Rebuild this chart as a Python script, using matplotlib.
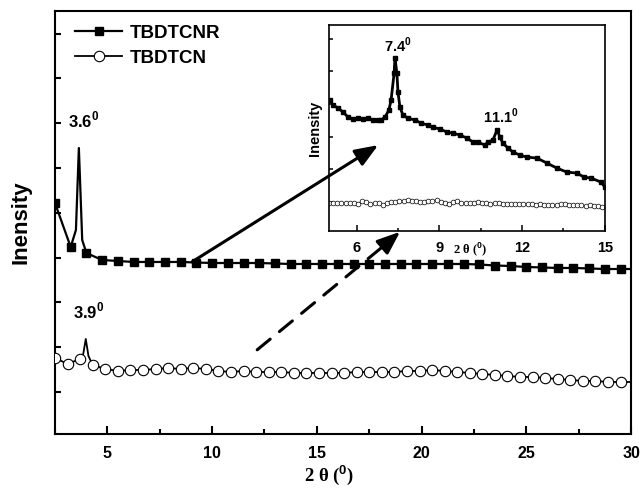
import matplotlib
matplotlib.use('Agg')
import matplotlib.pyplot as plt
from matplotlib.ticker import MultipleLocator, FixedLocator, NullFormatter

plt.rcParams['font.family'] = ['Liberation Sans', 'DejaVu Sans']
plt.rcParams['font.weight'] = 'bold'
plt.rcParams['mathtext.fontset'] = 'custom'
plt.rcParams['mathtext.rm'] = 'Liberation Sans'
plt.rcParams['mathtext.bf'] = 'Liberation Sans:bold'

# main pattern, TBDTCNR (squares); 3.5/3.64/3.8 and 30.0 are line-only points
nr_x = [2.5, 3.25, 3.5, 3.64, 3.8, 4.0, 4.75, 5.5, 6.25, 7.0, 7.75, 8.5, 9.25,
        10.0, 10.75, 11.5, 12.25, 13.0, 13.75, 14.5, 15.25, 16.0, 16.75, 17.5,
        18.25, 19.0, 19.75, 20.5, 21.25, 22.0, 22.75, 23.5, 24.25, 25.0, 25.75,
        26.5, 27.25, 28.0, 28.75, 29.5, 30.0]
nr_y = [5218, 4236, 4616, 6446, 4393, 4102, 3946, 3924, 3902, 3902, 3902, 3902, 3890,
        3879, 3879, 3879, 3879, 3868, 3857, 3857, 3857, 3857, 3857, 3857,
        3857, 3857, 3857, 3857, 3857, 3857, 3846, 3823, 3812, 3790, 3779,
        3768, 3768, 3757, 3745, 3745, 3745]
nr_line_only = [3.5, 3.64, 3.8, 30.0]

# main pattern, TBDTCN (open circles); 3.85/3.97/4.1 and 30.0 are line-only points
cn_x = [2.5, 3.1, 3.7, 3.85, 3.97, 4.1, 4.3, 4.9, 5.5, 6.1, 6.7, 7.3, 7.9, 8.5, 9.1,
        9.7, 10.3, 10.9, 11.5, 12.1, 12.7, 13.3, 13.9, 14.5, 15.1, 15.7, 16.3,
        16.9, 17.5, 18.1, 18.7, 19.3, 19.9, 20.5, 21.1, 21.7, 22.3, 22.9, 23.5,
        24.1, 24.7, 25.3, 25.9, 26.5, 27.1, 27.7, 28.3, 28.9, 29.5, 30.0]
cn_y = [1759, 1625, 1737, 1850, 2183, 1800, 1603, 1513, 1469, 1491, 1491, 1513, 1536, 1513, 1536,
        1513, 1469, 1446, 1469, 1446, 1446, 1446, 1424, 1424, 1424, 1424, 1424,
        1446, 1446, 1446, 1446, 1469, 1469, 1491, 1469, 1446, 1424, 1402, 1379,
        1357, 1335, 1335, 1312, 1290, 1268, 1246, 1246, 1223, 1223, 1223]
cn_line_only = [3.85, 3.97, 4.1, 30.0]

# inset, 5-15 degrees
in_nr_x = [5.03, 5.14, 5.33, 5.51, 5.69, 5.87, 6.05, 6.23, 6.41, 6.59, 6.78, 6.88,
           7.03, 7.17, 7.25, 7.36, 7.39, 7.46, 7.50, 7.57, 7.68, 7.86, 8.12, 8.33,
           8.59, 8.77, 9.02, 9.28, 9.49, 9.75, 10.0, 10.22, 10.40, 10.65, 10.76,
           10.94, 11.09, 11.20, 11.30, 11.49, 11.67, 11.92, 12.17, 12.54, 12.90,
           13.26, 13.62, 13.99, 14.24, 14.50, 14.86, 15.0]
in_nr_y = [1310, 1260, 1230, 1190, 1140, 1120, 1130, 1120, 1130, 1110, 1110, 1110,
           1140, 1210, 1310, 1580, 1730, 1580, 1390, 1240, 1160, 1130, 1110, 1080,
           1060, 1040, 1020, 990, 980, 960, 930, 890, 890, 860, 890,
           910, 1010, 940, 880, 830, 790, 760, 740, 730, 680,
           630, 590, 580, 540, 530, 490, 440]
in_cn_x = [5.0, 5.15, 5.3, 5.45, 5.6, 5.75, 5.9, 6.05, 6.2, 6.35, 6.5, 6.65, 6.8, 6.95,
           7.1, 7.25, 7.4, 7.55, 7.7, 7.85, 8.0, 8.15, 8.3, 8.45, 8.6, 8.75, 8.9, 9.05,
           9.2, 9.35, 9.5, 9.65, 9.8, 9.95, 10.1, 10.25, 10.4, 10.55, 10.7, 10.85,
           11.0, 11.15, 11.3, 11.45, 11.6, 11.75, 11.9, 12.05, 12.2, 12.35, 12.5,
           12.65, 12.8, 12.95, 13.1, 13.25, 13.4, 13.55, 13.7, 13.85, 14.0, 14.15,
           14.3, 14.45, 14.6, 14.75, 14.9]
in_cn_y = [280, 285, 280, 282, 278, 280, 285, 275, 300, 290, 270, 285, 280, 262,
           285, 290, 295, 300, 305, 310, 305, 300, 295, 290, 300, 305, 308, 295,
           285, 270, 290, 300, 285, 280, 278, 285, 290, 285, 283, 275,
           280, 278, 275, 270, 272, 270, 272, 268, 270, 268, 265,
           268, 262, 265, 258, 262, 268, 270, 265, 262, 260, 258,
           255, 258, 252, 250, 240]

main_yticks = [1000, 2000, 3000, 4000, 5000, 6000, 7000, 8000, 9000]
inset_yticks = [290, 617, 944, 1271, 1598, 1925]

fig = plt.figure(figsize=(6.43, 4.97), dpi=100)
ax = fig.add_axes([0.0855, 0.1268, 0.896, 0.851])
ins = fig.add_axes([0.5117, 0.535, 0.429, 0.4145])
# main axes drawn over the inset so the arrow head shows
ax.set_zorder(2)
ax.patch.set_visible(False)
ins.set_zorder(1)

nr_mark = [x not in nr_line_only for x in nr_x]
cn_mark = [x not in cn_line_only for x in cn_x]
ax.plot(nr_x, nr_y, color='black', lw=1.6, marker='s', ms=5.8,
        markevery=nr_mark, label='TBDTCNR', zorder=3)
ax.plot(cn_x, cn_y, color='black', lw=1.3, marker='o', ms=7.5, mfc='white',
        mec='black', mew=0.8, markevery=cn_mark, label='TBDTCN', zorder=3)

ax.set_xlim(2.5, 30)
ax.set_ylim(62, 9504)
ax.xaxis.set_major_locator(MultipleLocator(5))
ax.xaxis.set_minor_locator(MultipleLocator(2.5))
ax.yaxis.set_major_locator(FixedLocator(main_yticks))
ax.yaxis.set_major_formatter(NullFormatter())
ax.tick_params(axis='both', which='both', direction='in', width=1.5)
ax.tick_params(axis='x', which='major', length=6, labelsize=11.5, pad=9)
ax.tick_params(axis='x', which='minor', length=3.5)
ax.tick_params(axis='y', which='major', length=4.5)
for s in ax.spines.values():
    s.set_linewidth(1.5)

ax.set_ylabel('Inensity', fontsize=16, fontweight='bold')
ax.yaxis.set_label_coords(-0.04, 0.5)
ax.set_xlabel(r'2 θ ($^{0}$)', fontsize=13.5, fontweight='bold',
              fontfamily=['Liberation Serif', 'DejaVu Serif'])
ax.xaxis.set_label_coords(0.475, -0.068)

ax.text(3.12, 7071, r'3.6$^{0}$', fontsize=12, fontweight='bold', va='center')
ax.text(3.36, 2808, r'3.9$^{0}$', fontsize=12, fontweight='bold', va='center')

ax.legend(loc='upper left', bbox_to_anchor=(0.035, 0.968), frameon=False,
          fontsize=13.5, handlelength=2.5, handletextpad=0.4, labelspacing=0.42,
          borderpad=0, borderaxespad=0)

# solid arrow to the inset
ax.annotate('', xy=(0.561, 0.683), xytext=(0.238, 0.407), xycoords='axes fraction',
            arrowprops=dict(arrowstyle='-|>,head_length=1.4,head_width=0.55',
                            lw=2.2, color='black', mutation_scale=10, shrinkA=0, shrinkB=0))
# dashed arrow
ax.annotate('', xy=(0.585, 0.461), xytext=(0.351, 0.199), xycoords='axes fraction',
            arrowprops=dict(arrowstyle='-', lw=2.2, color='black', linestyle=(0, (5.5, 3.9)),
                            shrinkA=0, shrinkB=0))
ax.annotate('', xy=(0.599, 0.478), xytext=(0.57, 0.444), xycoords='axes fraction',
            arrowprops=dict(arrowstyle='-|>,head_length=1.4,head_width=0.55',
                            lw=2.2, color='black', mutation_scale=10, shrinkA=0, shrinkB=0))

# inset x label sits under the main curve
ax.text(0.72, 0.437, r'2 θ ($^{0}$)', transform=ax.transAxes, fontsize=9,
        fontweight='bold', family=['Liberation Serif', 'DejaVu Serif'],
        ha='center', va='center', zorder=1)

ins.plot(in_nr_x, in_nr_y, color='black', lw=2.0, marker='s', ms=2.6)
ins.plot(in_cn_x, in_cn_y, color='black', lw=0.4, marker='o', ms=3.4, mfc='white',
         mec='black', mew=0.5)
ins.text(6.99, 1860, r'7.4$^{0}$', fontsize=10.5, fontweight='bold', va='center')
ins.text(10.58, 1150, r'11.1$^{0}$', fontsize=10.5, fontweight='bold', va='center')
ins.set_xlim(5, 15)
ins.set_ylim(0, 2060)
ins.xaxis.set_major_locator(FixedLocator([6, 9, 12, 15]))
ins.xaxis.set_minor_locator(FixedLocator([7.5, 10.5, 13.5]))
ins.yaxis.set_major_locator(FixedLocator(inset_yticks))
ins.yaxis.set_major_formatter(NullFormatter())
ins.tick_params(axis='both', which='both', direction='in', width=1.1)
ins.tick_params(axis='x', which='major', length=4, labelsize=10.5, pad=7)
ins.tick_params(axis='x', which='minor', length=2.5)
ins.tick_params(axis='y', which='major', length=3)
for s in ins.spines.values():
    s.set_linewidth(1.2)
ins.set_ylabel('Inensity', fontsize=10.5, fontweight='bold')
ins.yaxis.set_label_coords(-0.025, 0.5)

fig.savefig('out.png', dpi=100)
